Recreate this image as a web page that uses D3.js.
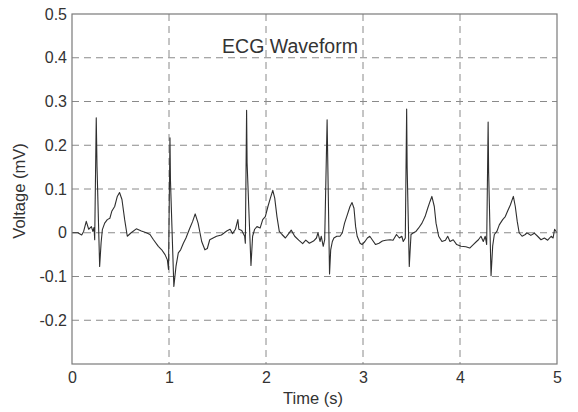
<!DOCTYPE html>
<html>
<head>
<meta charset="utf-8">
<script src="https://cdn.jsdelivr.net/npm/d3@7"></script>
<style>
    body { margin: 0; background: white; }
    svg { display: block; font-family: "Liberation Sans", Arial, sans-serif; }
    .grid-lines line { stroke: #8a8a8a; stroke-width: 1; stroke-dasharray: 7 5; }
    .frame { fill: none; stroke: #7a7a7a; stroke-width: 1.2; }
    .chart-line { fill: none; stroke: #2f2f2f; stroke-width: 1.1; stroke-linejoin: round; }
    .tick-label { fill: #333; font-size: 16px; }
    .chart-title { fill: #333; font-size: 19.5px; }
    .axis-label { fill: #333; font-size: 16.5px; }
</style>
</head>
<body>
<div class="mainview"></div>
<script>

// ECG trace: time (s) and voltage (mV)
const time = [
    0, 0.06, 0.10, 0.12, 0.147, 0.172, 0.20, 0.215, 0.227, 0.234,
    0.25, 0.258, 0.285, 0.30, 0.313, 0.337, 0.364, 0.39, 0.41, 0.44,
    0.467, 0.49, 0.515, 0.543, 0.57, 0.61, 0.663, 0.715, 0.766, 0.804,
    0.84, 0.89, 0.925, 0.959, 0.983, 0.995, 1.01, 1.015, 1.05, 1.072,
    1.096, 1.12, 1.148, 1.175, 1.21, 1.244, 1.27, 1.30, 1.337, 1.37,
    1.395, 1.42, 1.455, 1.49, 1.54, 1.595, 1.63, 1.655, 1.685, 1.71,
    1.72, 1.75, 1.78, 1.787, 1.80, 1.805, 1.845, 1.862, 1.883, 1.907,
    1.94, 1.966, 1.993, 2.02, 2.045, 2.07, 2.09, 2.113, 2.137, 2.165,
    2.20, 2.234, 2.26, 2.296, 2.337, 2.378, 2.41, 2.447, 2.49, 2.52,
    2.536, 2.557, 2.57, 2.59, 2.605, 2.63, 2.655, 2.667, 2.684, 2.70,
    2.73, 2.763, 2.787, 2.81, 2.838, 2.866, 2.887, 2.907, 2.924, 2.94,
    2.97, 2.99, 3.02, 3.045, 3.07, 3.095, 3.13, 3.165, 3.20, 3.234,
    3.28, 3.31, 3.345, 3.375, 3.40, 3.415, 3.436, 3.45, 3.455, 3.477,
    3.495, 3.52, 3.546, 3.574, 3.608, 3.64, 3.667, 3.69, 3.71, 3.735,
    3.753, 3.78, 3.814, 3.85, 3.873, 3.897, 3.93, 3.966, 4.01, 4.06,
    4.10, 4.137, 4.17, 4.19, 4.216, 4.24, 4.26, 4.275, 4.29, 4.295,
    4.32, 4.337, 4.354, 4.38, 4.405, 4.44, 4.467, 4.49, 4.52, 4.55,
    4.57, 4.59, 4.61, 4.64, 4.673, 4.69, 4.73, 4.766, 4.80, 4.835,
    4.87, 4.904, 4.94, 4.96, 4.975, 5.0
];

const voltage = [
    0.000, 0.000, -0.005, 0.003, 0.026, 0.008, 0.014, 0.003, 0.012, -0.016,
    0.263, 0.150, -0.077, -0.023, 0.007, 0.022, 0.030, 0.033, 0.049, 0.060,
    0.083, 0.092, 0.076, 0.030, -0.008, 0.000, 0.009, 0.004, 0.000, -0.004,
    -0.016, -0.031, -0.039, -0.050, -0.062, -0.084, 0.217, 0.120, -0.123, -0.077,
    -0.046, -0.039, -0.024, -0.012, 0.008, 0.026, 0.043, 0.022, -0.020, -0.039,
    -0.036, -0.016, -0.012, -0.008, -0.005, 0.004, 0.008, -0.002, 0.008, 0.030,
    0.008, 0.005, -0.008, -0.024, 0.280, 0.160, -0.075, -0.008, 0.008, 0.014,
    0.011, 0.030, 0.037, 0.060, 0.079, 0.097, 0.079, 0.037, 0.003, -0.004,
    -0.012, -0.002, 0.006, -0.008, -0.017, -0.025, -0.017, -0.024, -0.019, -0.012,
    0.000, -0.020, -0.008, -0.031, -0.016, 0.258, -0.094, -0.039, -0.020, -0.012,
    -0.008, -0.008, 0.000, 0.022, 0.041, 0.060, 0.069, 0.056, 0.014, -0.008,
    -0.024, -0.027, -0.020, -0.012, -0.008, -0.016, -0.027, -0.024, -0.019, -0.017,
    -0.016, -0.017, -0.004, -0.012, -0.008, -0.020, -0.012, 0.283, 0.150, -0.077,
    -0.004, 0.000, 0.003, 0.011, 0.022, 0.037, 0.056, 0.071, 0.083, 0.060,
    0.022, -0.008, -0.020, -0.017, -0.008, -0.020, -0.016, -0.027, -0.031, -0.032,
    -0.035, -0.027, -0.020, -0.016, -0.008, -0.020, -0.008, -0.027, 0.253, 0.140,
    -0.098, -0.030, -0.004, 0.003, 0.018, 0.030, 0.037, 0.049, 0.064, 0.083,
    0.060, 0.026, 0.000, -0.008, -0.004, 0.000, -0.006, -0.001, -0.008, -0.016,
    -0.012, -0.017, -0.008, -0.012, 0.008, 0.000
];

const xTicks = [0, 1, 2, 3, 4, 5];
const yTicks = [0.5, 0.4, 0.3, 0.2, 0.1, 0, -0.1, -0.2];
const yTickLabels = ["0.5", "0.4", "0.3", "0.2", "0.1", "0", "-0.1", "-0.2"];
const xGrid = [1, 2, 3, 4];
const yGrid = [0.4, 0.3, 0.2, 0.1, 0, -0.1, -0.2];

const titleText = "ECG Waveform";
const xLabelText = "Time (s)";
const yLabelText = "Voltage (mV)";

const dim = { width: 578, height: 412 };
const plot = { left: 72, right: 557, top: 14, bottom: 364 };

const x = d3.scaleLinear()
    .domain([0, 5])
    .range([plot.left, plot.right]);

const y = d3.scaleLinear()
    .domain([-0.3, 0.5])
    .range([plot.bottom, plot.top]);

const svg = d3.select(".mainview").append("svg")
    .attr("width", dim.width)
    .attr("height", dim.height)
    .attr("viewBox", [0, 0, dim.width, dim.height]);

// grid
const grid = svg.append("g").attr("class", "grid-lines");
grid.selectAll("line.v")
    .data(xGrid)
    .join("line")
    .attr("class", "v")
    .attr("x1", d => x(d)).attr("x2", d => x(d))
    .attr("y1", plot.top).attr("y2", plot.bottom);
grid.selectAll("line.h")
    .data(yGrid)
    .join("line")
    .attr("class", "h")
    .attr("x1", plot.left).attr("x2", plot.right)
    .attr("y1", d => y(d)).attr("y2", d => y(d));

// trace
const data = time.map((t, i) => ({ t, v: voltage[i] }));
const line = d3.line()
    .x(d => x(d.t))
    .y(d => y(d.v));

svg.append("path")
    .attr("class", "chart-line")
    .attr("d", line(data));

// frame
svg.append("rect")
    .attr("class", "frame")
    .attr("x", plot.left).attr("y", plot.top)
    .attr("width", plot.right - plot.left)
    .attr("height", plot.bottom - plot.top);

// axes
const xAxis = d3.axisBottom(x)
    .tickValues(xTicks)
    .tickFormat(d3.format("d"))
    .tickSize(0)
    .tickPadding(8);

svg.append("g")
    .attr("transform", `translate(0, ${ plot.bottom })`)
    .call(xAxis)
    .call(g => g.select(".domain").remove())
    .call(g => g.selectAll("text").attr("class", "tick-label").attr("fill", null));

const yAxis = d3.axisLeft(y)
    .tickValues(yTicks)
    .tickFormat((d, i) => yTickLabels[i])
    .tickSize(0)
    .tickPadding(5);

svg.append("g")
    .attr("transform", `translate(${ plot.left }, 0)`)
    .call(yAxis)
    .call(g => g.select(".domain").remove())
    .call(g => g.selectAll("text").attr("class", "tick-label").attr("fill", null));

// texts
svg.append("text")
    .attr("class", "chart-title")
    .attr("x", 290)
    .attr("y", 53)
    .attr("text-anchor", "middle")
    .text(titleText);

svg.append("text")
    .attr("class", "axis-label")
    .attr("x", 313)
    .attr("y", 404)
    .attr("text-anchor", "middle")
    .text(xLabelText);

svg.append("text")
    .attr("class", "axis-label")
    .attr("transform", `translate(25, 191) rotate(-90)`)
    .attr("text-anchor", "middle")
    .text(yLabelText);

</script>
</body>
</html>
